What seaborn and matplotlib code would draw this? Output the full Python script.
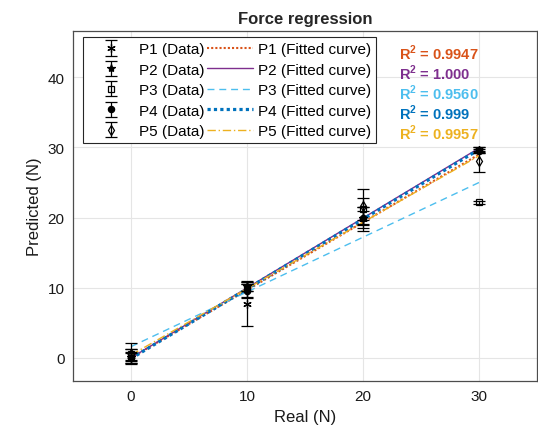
import matplotlib
matplotlib.use("Agg")
import matplotlib.pyplot as plt
import seaborn as sns
import pandas as pd
from matplotlib.lines import Line2D
from matplotlib.legend_handler import HandlerTuple

# ---- data ----
real = [0, 10, 20, 30]
series = ["P1", "P2", "P3", "P4", "P5"]
P1_mean = [0.3, 7.7, 19.8, 29.6]
P1_err = [1.0, 3.1, 1.7, 0.4]
P2_mean = [0.1, 10.2, 20.0, 29.7]
P2_err = [0.6, 0.6, 1.0, 0.3]
P3_mean = [0.5, 10.0, 21.2, 22.2]
P3_err = [0.8, 0.5, 1.6, 0.2]
P4_mean = [0.0, 9.6, 20.0, 29.5]
P4_err = [0.8, 0.9, 1.5, 0.3]
P5_mean = [0.6, 9.8, 21.6, 28.0]
P5_err = [1.5, 1.2, 2.5, 1.5]

fit_x = [0, 30]
fit_P1 = [0.0, 29.0]
fit_P2 = [0.0, 29.9]
fit_P3 = [1.6, 25.0]
fit_P4 = [-0.1, 29.7]
fit_P5 = [0.4, 28.8]

r2_labels = ["0.9947", "1.000", "0.9560", "0.999", "0.9957"]

means = [P1_mean, P2_mean, P3_mean, P4_mean, P5_mean]
errs = [P1_err, P2_err, P3_err, P4_err, P5_err]
fits = [fit_P1, fit_P2, fit_P3, fit_P4, fit_P5]

# ---- style ----
colors = ["#D95319", "#7E2F8E", "#4DBEEE", "#0072BD", "#EDB120"]
dashes = [(1, 1), "", (5, 3.5), (1, 1), (6, 2, 1, 2)]
lws = [1.5, 1.0, 1.0, 2.3, 1.0]
markers = [(6, 2, 0), "*", "s", "o", "d"]
mfcs = ["black", "black", "none", "black", "none"]
msizes = [6, 6, 4.5, 4.5, 5.5]

sns.set_theme(style="whitegrid")
plt.rcParams["font.family"] = ["Liberation Sans", "DejaVu Sans"]
plt.rcParams["mathtext.fontset"] = "custom"
plt.rcParams["mathtext.rm"] = "Liberation Sans"
plt.rcParams["mathtext.bf"] = "Liberation Sans:bold"

fig = plt.figure(figsize=(5.38, 4.39), dpi=100)
ax = fig.add_axes([73/538, 57/439, 464/538, 350/439])

fit_df = pd.DataFrame({
    "Real": fit_x * 5,
    "Pred": sum(fits, []),
    "Series": sum([[s] * 2 for s in series], []),
})
sns.lineplot(data=fit_df, x="Real", y="Pred", hue="Series", style="Series",
             palette=dict(zip(series, colors)), dashes=dict(zip(series, dashes)),
             size="Series", sizes=dict(zip(series, lws)), legend=False, ax=ax,
             zorder=2)

data_handles = []
for i, s in enumerate(series):
    h = ax.errorbar(real, means[i], yerr=errs[i], fmt="none", ecolor="black",
                    elinewidth=0.9, capsize=4.5, capthick=0.9, zorder=3)
    ax.plot(real, means[i], linestyle="none", marker=markers[i], color="black",
            mfc=mfcs[i], mec="black", ms=msizes[i], mew=0.9, zorder=4)
    data_handles.append(h)

handles = []
for i in range(5):
    mk = Line2D([], [], linestyle="none", marker=markers[i], color="black",
                mfc=mfcs[i], mec="black", ms=msizes[i], mew=0.9)
    handles.append((data_handles[i], mk))
for i in range(5):
    ls = "-" if dashes[i] == "" else (0, dashes[i])
    handles.append(Line2D([], [], color=colors[i], lw=lws[i], linestyle=ls))
labels = [f"{s} (Data)" for s in series] + [f"{s} (Fitted curve)" for s in series]

leg = ax.legend(handles, labels, ncol=2, loc="upper left",
                bbox_to_anchor=(10/464, 1 - 6/350), borderaxespad=0,
                fontsize=11, handlelength=3.0, handletextpad=0.3,
                columnspacing=0.2, labelspacing=0.42, borderpad=0.35,
                frameon=True, fancybox=False, framealpha=1,
                handler_map={tuple: HandlerTuple(ndivide=1)})
leg.get_frame().set_edgecolor("#262626")
leg.get_frame().set_linewidth(0.8)
for t in leg.get_texts():
    t.set_color("black")

for i, lab in enumerate(r2_labels):
    ax.text(0.703, 0.94 - i * 0.0575, r"R$^{\mathbf{2}}$ = " + lab, transform=ax.transAxes,
            color=colors[i], fontsize=10.5, fontweight="bold", ha="left", va="center")

ax.set_xlim(-5, 35)
ax.set_ylim(-3.3, 46.6)
ax.set_xticks([0, 10, 20, 30])
ax.set_yticks([0, 10, 20, 30, 40])
ax.grid(True, color="#e5e5e5", linewidth=0.8)
ax.set_facecolor("white")
for sp in ax.spines.values():
    sp.set_color("#4d4d4d")
    sp.set_linewidth(0.9)
ax.tick_params(direction="in", length=4, width=0.8, color="#4d4d4d",
               labelsize=11, labelcolor="#1a1a1a", pad=6)
ax.set_xlabel("Real (N)", fontsize=12, color="#1a1a1a")
ax.set_ylabel("Predicted (N)", fontsize=12, color="#1a1a1a")
ax.set_title("Force regression", fontsize=12, fontweight="bold", pad=6)

fig.savefig("out.png", dpi=100)
